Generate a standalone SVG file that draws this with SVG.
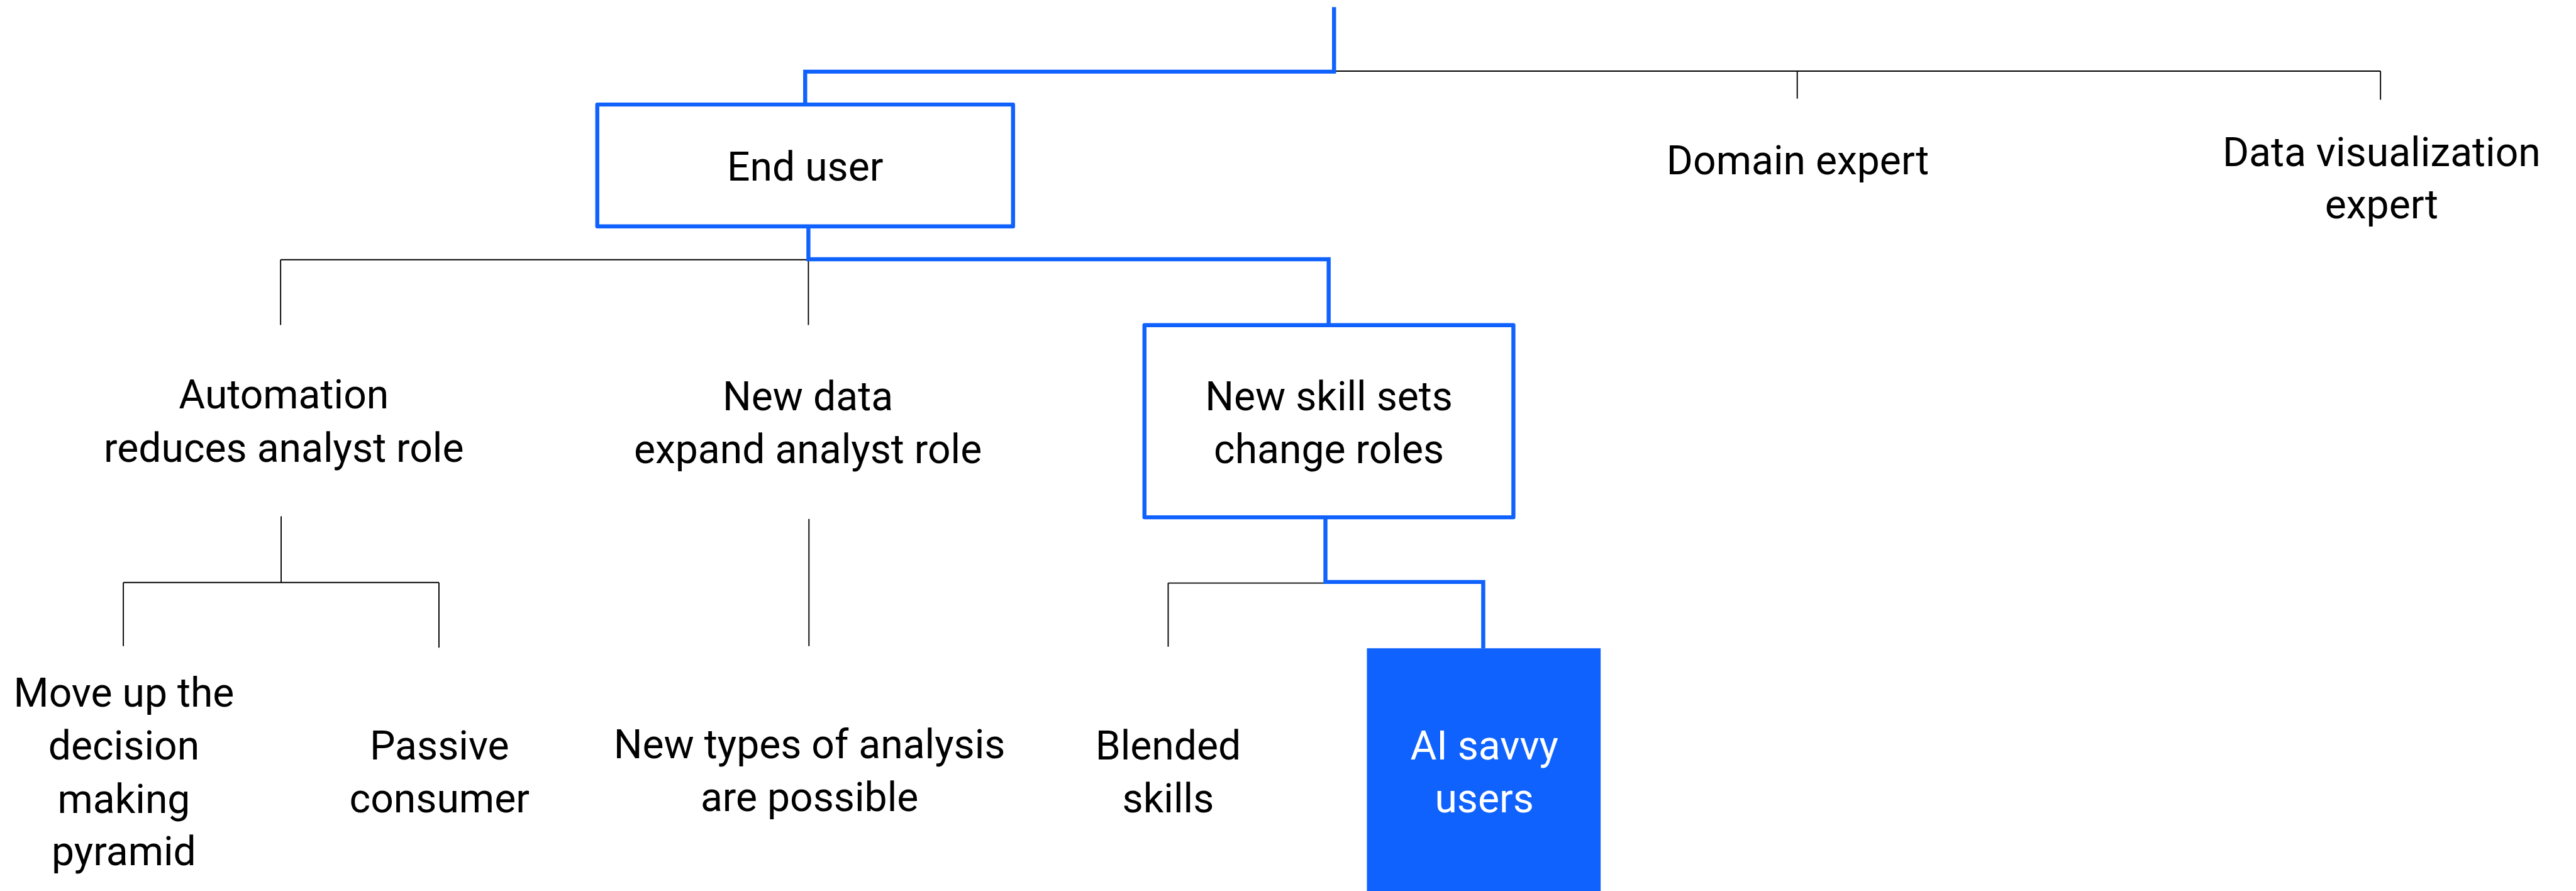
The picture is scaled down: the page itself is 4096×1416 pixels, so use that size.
<svg xmlns="http://www.w3.org/2000/svg" width="4096" height="1416" viewBox="0 0 4096 1416">
  <style>
    .lbl { font-family: Roboto, "Liberation Sans", sans-serif; font-size: 75px; fill: #000000; text-anchor: middle; }
    .lbl-inv { fill: #ffffff; }
    .box { fill: #ffffff; stroke: #0f62fe; stroke-width: 7.5; stroke-linejoin: round; }
    .box-solid { fill: #0f62fe; }
    .hl { fill: none; stroke: #0f62fe; stroke-width: 7.5; }
    .ln { fill: none; stroke: #000000; stroke-width: 2.2; }
  </style>
  <rect width="4096" height="1416" fill="#ffffff"/>
  <!-- drawn in 4783x1654 units, scaled to the canvas -->
  <g transform="scale(0.85637)">
    <g id="connectors">
      <!-- top level -->
      <path class="ln" d="M2477 132 H4420 M3337 132 V183 M4420 132 V185"/>
      <path class="hl" d="M2477 13 V133 H1495 V194"/>
      <!-- under End user -->
      <path class="ln" d="M521 482 H1501 M521 482 V603 M1501 482 V603"/>
      <path class="hl" d="M1501 420 V481 H2467 V603"/>
      <!-- under Automation -->
      <path class="ln" d="M522 958 V1081 M229 1081 H815 M229 1081 V1199 M815 1081 V1202"/>
      <!-- under New data -->
      <path class="ln" d="M1502 963 V1199"/>
      <!-- under New skill sets -->
      <path class="ln" d="M2169 1082 H2461 M2169 1082 V1200"/>
      <path class="hl" d="M2461 960 V1080 H2754 V1203"/>
    </g>

    <g id="node-end-user">
      <rect class="box" x="1109" y="194" width="772" height="226"/>
      <text class="lbl" x="1495" y="335">End user</text>
    </g>

    <g id="node-domain-expert">
      <text class="lbl" x="3338" y="323">Domain expert</text>
    </g>

    <g id="node-data-viz-expert">
      <text class="lbl" x="4422" y="308">Data visualization</text>
      <text class="lbl" x="4422" y="405">expert</text>
    </g>

    <g id="node-automation">
      <text class="lbl" x="527" y="758">Automation</text>
      <text class="lbl" x="527" y="857">reduces analyst role</text>
    </g>

    <g id="node-new-data">
      <text class="lbl" x="1500" y="761">New data</text>
      <text class="lbl" x="1500" y="859">expand analyst role</text>
    </g>

    <g id="node-new-skill-sets">
      <rect class="box" x="2125" y="603.5" width="685" height="356.5"/>
      <text class="lbl" x="2467.5" y="761">New skill sets</text>
      <text class="lbl" x="2467.5" y="859">change roles</text>
    </g>

    <g id="node-move-up">
      <text class="lbl" x="230" y="1311">Move up the</text>
      <text class="lbl" x="230" y="1410">decision</text>
      <text class="lbl" x="230" y="1509">making</text>
      <text class="lbl" x="230" y="1606">pyramid</text>
    </g>

    <g id="node-passive-consumer">
      <text class="lbl" x="816" y="1409">Passive</text>
      <text class="lbl" x="816" y="1507">consumer</text>
    </g>

    <g id="node-new-types">
      <text class="lbl" x="1503" y="1407">New types of analysis</text>
      <text class="lbl" x="1503" y="1505">are possible</text>
    </g>

    <g id="node-blended-skills">
      <text class="lbl" x="2169" y="1409">Blended</text>
      <text class="lbl" x="2169" y="1508">skills</text>
    </g>

    <g id="node-ai-savvy-users">
      <rect class="box-solid" x="2538" y="1203" width="434" height="460"/>
      <text class="lbl lbl-inv" x="2756" y="1409">AI savvy</text>
      <text class="lbl lbl-inv" x="2756" y="1508">users</text>
    </g>
  </g>
</svg>
